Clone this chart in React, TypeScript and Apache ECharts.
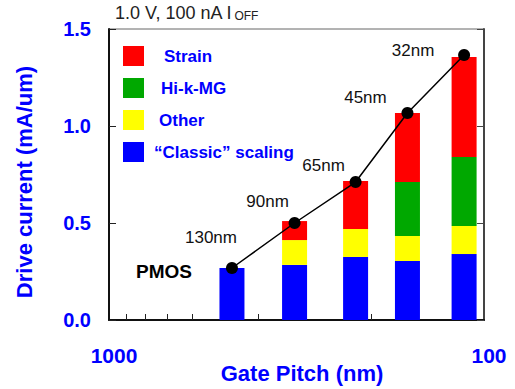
import React, { useEffect, useRef } from 'react';
import * as echarts from 'echarts';

// ---- data ----
const nodes = ['130nm', '90nm', '65nm', '45nm', '32nm'];
const gatePitch = [470, 320, 220, 160, 113];
const classicScaling = [0.268, 0.284, 0.325, 0.304, 0.34];
const other = [0, 0.128, 0.144, 0.129, 0.145];
const hiKMG = [0, 0, 0, 0.278, 0.355];
const strain = [0, 0.098, 0.247, 0.356, 0.516];
const driveCurrent = [0.268, 0.5, 0.711, 1.067, 1.366];
const xTickLabels = [1000, 100];
const xMinorTicks = [900, 800, 700, 600, 500, 400, 300, 200];
const yTickLabels = ['0.0', '0.5', '1.0', '1.5'];

// ---- layout / style ----
const FONT = '"Liberation Sans", Arial, Helvetica, sans-serif';
const BLUE = '#0000FF';
const BAR_WIDTH = 25;
const nodeLabelOffsets = [[-21, -31], [-27, -22], [-32, -17], [-42, -16], [-51, -4]];
const legendPads = [15, 12, 10, 5];

// stacking order: bottom to top
const segments = [
  { name: '“Classic” scaling', values: classicScaling, color: '#0000FF' },
  { name: 'Other', values: other, color: '#FFFF00' },
  { name: 'Hi-k-MG', values: hiKMG, color: '#00A800' },
  { name: 'Strain', values: strain, color: '#FF0000' },
];

function stackedRows() {
  const base = gatePitch.map(() => 0);
  return segments.map((s) =>
    gatePitch.map((x, i) => {
      const lo = base[i];
      const hi = lo + s.values[i];
      base[i] = hi;
      return [x, lo, hi];
    })
  );
}

export default function App() {
  const ref = useRef<HTMLDivElement>(null);
  useEffect(() => {
    document.body.style.margin = '0';
    const chart = echarts.init(ref.current!, null, { renderer: 'svg' });
    const legendOrder = ['Strain', 'Hi-k-MG', 'Other', '“Classic” scaling'];
    const rows = stackedRows();
    const option: any = {
      animation: false,
      backgroundColor: '#ffffff',
      grid: {
        left: 109, right: 31, top: 29, bottom: 69,
        show: true, borderColor: '#666', borderWidth: 1,
      },
      legend: {
        orient: 'vertical', left: 118, top: 41,
        itemWidth: 21, itemHeight: 20, itemGap: 12, icon: 'rect',
        selectedMode: false,
        data: legendOrder.map((n, i) => ({
          name: n,
          textStyle: { padding: [0, 0, 0, legendPads[i]] },
        })),
        textStyle: { color: BLUE, fontWeight: 'bold', fontSize: 17, fontFamily: FONT },
      },
      xAxis: {
        type: 'log', logBase: 10, min: 100, max: 1000, inverse: true,
        axisLine: { show: true, lineStyle: { color: '#111', width: 2 } },
        axisTick: { show: true, inside: true, length: 6, customValues: xMinorTicks, lineStyle: { color: '#222', width: 1 } },
        axisLabel: {
          customValues: xTickLabels,
          formatter: (v: number) => String(Math.round(v)),
          color: BLUE, fontWeight: 'bold', fontSize: 21, fontFamily: FONT,
          margin: 25, padding: [0, 0, 0, 10],
        },
        splitLine: { show: false },
        minorTick: { show: false },
      },
      yAxis: [
        {
          type: 'value', min: 0, max: 1.5, interval: 0.5,
          axisLine: { show: true, lineStyle: { color: '#111', width: 2 } },
          axisTick: { show: true, inside: true, length: 7, lineStyle: { color: '#222' } },
          axisLabel: {
            formatter: (v: number) => yTickLabels[Math.round(v / 0.5)],
            color: BLUE, fontWeight: 'bold', fontSize: 20, fontFamily: FONT, margin: 18,
          },
          splitLine: { show: false },
        },
        {
          type: 'value', min: 0, max: 1.5, interval: 0.5, position: 'right',
          axisLine: { show: true, lineStyle: { color: '#444', width: 2 } },
          axisTick: { show: true, inside: true, length: 7, lineStyle: { color: '#444' } },
          axisLabel: { show: false },
          splitLine: { show: false },
        },
      ],
      series: [
        ...segments.map((s, k) => ({
          type: 'custom', name: s.name,
          itemStyle: { color: s.color },
          encode: { x: 0, y: [1, 2] },
          data: rows[k],
          z: 2,
          renderItem: (params: any, api: any) => {
            const x = api.value(0);
            const lo = api.value(1);
            const hi = api.value(2);
            if (hi - lo <= 0) return null;
            const p0 = api.coord([x, lo]);
            const p1 = api.coord([x, hi]);
            return {
              type: 'rect',
              shape: { x: p0[0] - BAR_WIDTH / 2, y: p1[1], width: BAR_WIDTH, height: p0[1] - p1[1] },
              style: { fill: s.color },
            };
          },
        })),
        {
          type: 'line', name: 'Drive current',
          symbol: 'circle', symbolSize: 12,
          itemStyle: { color: '#000' },
          lineStyle: { color: '#000', width: 1.5 },
          data: gatePitch.map((x, i) => ({
            value: [x, driveCurrent[i]],
            label: { offset: nodeLabelOffsets[i] },
          })),
          label: {
            show: true, position: 'inside',
            formatter: (p: any) => nodes[p.dataIndex],
            color: '#111', fontSize: 17, fontFamily: FONT,
          },
          z: 5,
        },
      ],
      graphic: [
        {
          type: 'text', x: 115, y: 13,
          style: {
            text: '1.0 V, 100 nA I{s|OFF}',
            fontSize: 18, fontFamily: FONT, fill: '#222', verticalAlign: 'middle', lineHeight: 18,
            rich: { s: { fontSize: 12, fontFamily: FONT, fill: '#222', verticalAlign: 'bottom', lineHeight: 12, padding: [0, 0, 0, 2] } },
          },
        },
        { type: 'text', x: 136, y: 271, style: { text: 'PMOS', fontSize: 19, fontWeight: 'bold', fontFamily: FONT, fill: '#000', verticalAlign: 'middle' } },
        { type: 'text', x: 24, y: 182, rotation: Math.PI / 2, style: { text: 'Drive current (mA/um)', fontSize: 22, fontWeight: 'bold', fontFamily: FONT, fill: BLUE, align: 'center', verticalAlign: 'middle' } },
        { type: 'text', x: 302, y: 373, style: { text: 'Gate Pitch (nm)', fontSize: 22, fontWeight: 'bold', fontFamily: FONT, fill: BLUE, align: 'center', verticalAlign: 'middle' } },
      ],
    };
    chart.setOption(option);
    return () => chart.dispose();
  }, []);
  return <div ref={ref} style={{ width: 515, height: 389 }} />;
}
